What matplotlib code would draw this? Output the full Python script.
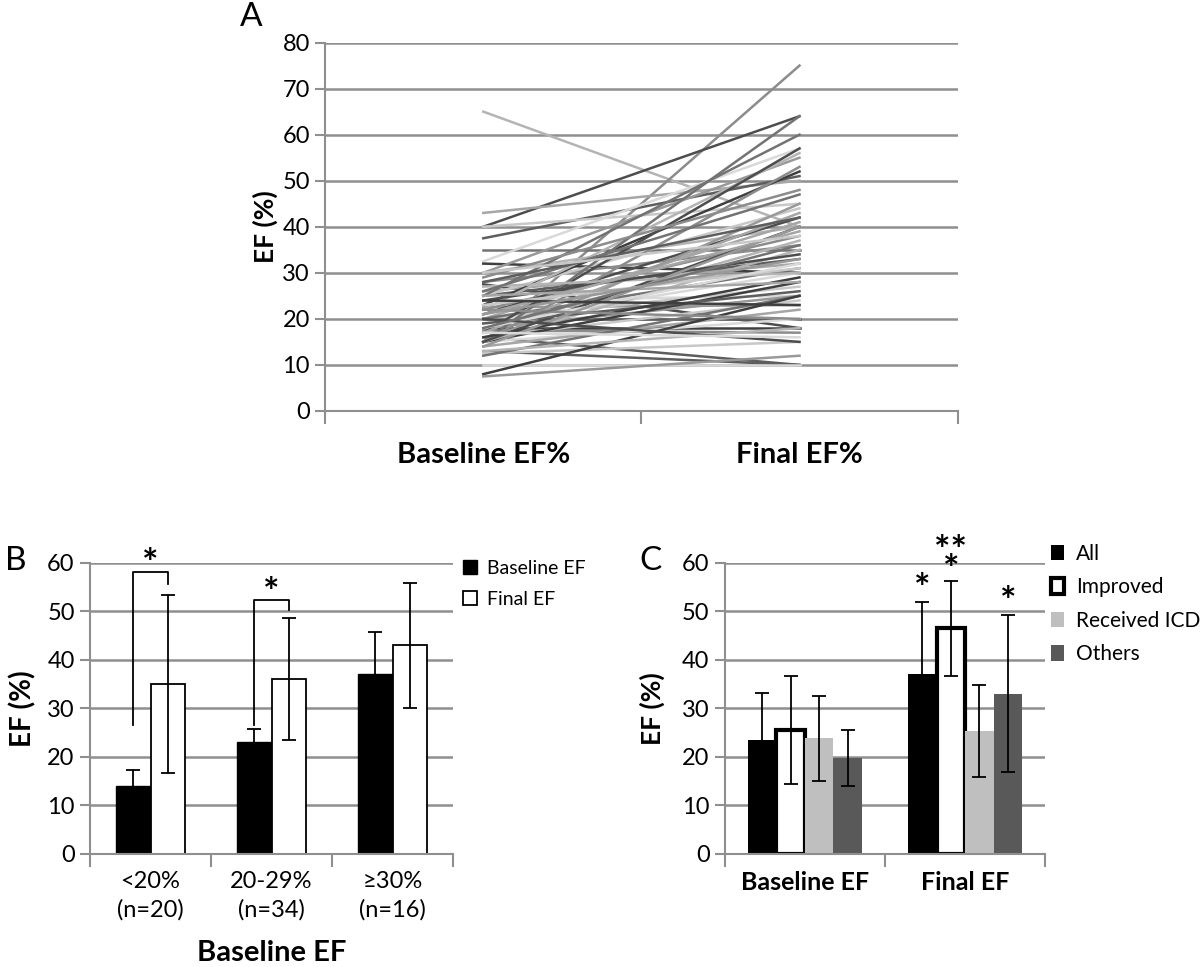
import numpy as np
import matplotlib.pyplot as plt
from matplotlib.patches import Patch

plt.rcParams['font.family'] = ['Lato', 'DejaVu Sans']

# Panel A: paired EF values per patient (baseline, final)
baseline_ef = [65, 15, 40, 43, 37.5, 40, 35, 32.5, 32, 30, 30, 28, 27.5, 26, 25, 25, 25, 24,
               23, 22.5, 22, 22, 21, 20, 20, 20, 20, 19, 18, 18, 17.5, 17.5, 17, 17, 16, 16,
               15, 15, 15, 15, 15, 15, 15, 14, 13, 12.5, 12, 10, 8, 7.5, 27, 29, 24, 21, 19,
               23, 26, 18, 16, 14, 13, 22, 20, 25, 28, 30, 18, 17, 24, 21]
final_ef = [40, 75, 64, 50, 51, 45, 35, 57, 30, 55, 40, 36, 18, 32, 33, 44, 60, 25,
            52, 23, 56, 38, 42, 41, 20, 27, 31, 30, 18, 25, 37, 17, 57, 43, 10, 24,
            64, 20, 28, 45, 35, 53, 40, 22, 10, 15, 25, 10, 25, 12, 30, 48, 34, 39, 26,
            31, 47, 32, 29, 40, 18, 20, 15, 28, 42, 38, 36, 16, 23, 33]
line_grays = ['#b4b4b4', '#8c8c8c', '#4d4d4d', '#a6a6a6', '#5e5e5e', '#c8c8c8', '#737373', '#d9d9d9', '#3f3f3f', '#999999']
a_categories = ['Baseline EF%', 'Final EF%']

# Panel B
b_categories = ['<20%\n(n=20)', '20-29%\n(n=34)', '\u226530%\n(n=16)']
b_baseline = [14, 23, 37]
b_baseline_err = [3.3, 2.8, 8.8]
b_final = [35, 36, 43]
b_final_err = [18.3, 12.6, 12.9]

# Panel C
c_categories = ['Baseline EF', 'Final EF']
c_series = ['All', 'Improved', 'Received ICD', 'Others']
c_all = [23.5, 37]
c_all_err = [9.7, 14.9]
c_improved = [25.5, 46.5]
c_improved_err = [11.1, 9.8]
c_icd = [23.8, 25.3]
c_icd_err = [8.7, 9.5]
c_others = [19.8, 33]
c_others_err = [5.8, 16.2]

grid_col = '#8f8f8f'
tick_fs = 17
label_fs = 19

fig = plt.figure(figsize=(12, 9.67), dpi=100)


def style_axes(ax, ymax, ystep):
    ax.set_ylim(0, ymax)
    ax.set_yticks(np.arange(0, ymax + 1, ystep))
    ax.yaxis.grid(True, color=grid_col, linewidth=1.8)
    ax.set_axisbelow(True)
    for s in ['top', 'right']:
        ax.spines[s].set_visible(False)
    for s in ['left', 'bottom']:
        ax.spines[s].set_color(grid_col)
        ax.spines[s].set_linewidth(1.5)
    ax.tick_params(axis='y', length=7, width=1.5, color=grid_col, labelsize=tick_fs, pad=4)
    ax.tick_params(axis='x', which='major', length=0, pad=12)
    ax.tick_params(axis='x', which='minor', length=9, width=1.5, color=grid_col)


# ---- Panel A ----
axA = fig.add_axes([0.271, 0.575, 0.527, 0.381])
for i in range(len(baseline_ef)):
    axA.plot([0, 1], [baseline_ef[i], final_ef[i]], color=line_grays[i % len(line_grays)], lw=1.8)
style_axes(axA, 80, 10)
axA.set_xlim(-0.5, 1.5)
axA.set_xticks([0, 1])
axA.set_xticklabels(a_categories, fontsize=21, fontweight='bold')
axA.tick_params(axis='x', which='major', pad=22)
axA.set_xticks([-0.5, 0.5, 1.5], minor=True)
axA.set_ylabel('EF (%)', fontsize=label_fs, fontweight='bold', labelpad=3)
fig.text(0.2, 0.982, 'A', fontsize=24, va='center')

# ---- Panel B ----
axB = fig.add_axes([0.075, 0.117, 0.3025, 0.301])
xb = np.arange(len(b_categories))
bw = 0.285
err_kw = dict(ecolor='black', capsize=5, elinewidth=1.3, capthick=1.3)
axB.bar(xb - bw / 2, b_baseline, bw, yerr=b_baseline_err, color='black', edgecolor='black',
        label='Baseline EF', error_kw=err_kw)
axB.bar(xb + bw / 2, b_final, bw, yerr=b_final_err, color='white', edgecolor='black', lw=1.3,
        label='Final EF', error_kw=err_kw)
style_axes(axB, 60, 10)
axB.set_xlim(-0.5, 2.5)
axB.set_xticks(xb)
axB.set_xticklabels(b_categories, fontsize=tick_fs, linespacing=1.45)
axB.set_xticks([-0.5, 0.5, 1.5, 2.5], minor=True)
axB.set_ylabel('EF (%)', fontsize=label_fs + 1, fontweight='bold', labelpad=8)
axB.set_xlabel('Baseline EF', fontsize=21, fontweight='bold', labelpad=14)
# significance brackets
for xi, lo, top, right_end in [(0, 26.5, 58.2, 55.7), (1, 26.5, 52.3, 50.2)]:
    axB.plot([xi - bw / 2, xi - bw / 2, xi + bw / 2, xi + bw / 2],
             [lo, top, top, right_end], color='black', lw=1.3, clip_on=False)
    axB.text(xi, top - 2.2, '*', fontsize=28, fontweight='bold', ha='center', va='bottom')
axB.legend(loc='upper left', bbox_to_anchor=(0.98, 1.07), frameon=False, fontsize=14,
           handlelength=0.7, handleheight=0.7, handletextpad=0.5, labelspacing=0.7)
fig.text(0.004, 0.42, 'B', fontsize=24, va='center')

# ---- Panel C ----
axC = fig.add_axes([0.604, 0.117, 0.267, 0.301])
xc = np.arange(len(c_categories))
cw = 0.178
c_vals = [c_all, c_improved, c_icd, c_others]
c_errs = [c_all_err, c_improved_err, c_icd_err, c_others_err]
c_face = ['black', 'white', '#bfbfbf', '#595959']
c_edge = ['black', 'black', '#bfbfbf', '#595959']
c_lw = [0, 3, 0, 0]
for k in range(len(c_series)):
    axC.bar(xc + (k - 1.5) * cw, c_vals[k], cw, yerr=c_errs[k], color=c_face[k],
            edgecolor=c_edge[k], lw=c_lw[k], error_kw=err_kw, label=c_series[k])
style_axes(axC, 60, 10)
axC.set_xlim(-0.5, 1.5)
axC.set_xticks(xc)
axC.set_xticklabels(c_categories, fontsize=label_fs - 1, fontweight='bold')
axC.set_xticks([-0.5, 0.5, 1.5], minor=True)
axC.set_ylabel('EF (%)', fontsize=label_fs, fontweight='bold', labelpad=12)
axC.text(1 - 1.5 * cw, 50.8, '*', fontsize=28, fontweight='bold', ha='center', va='bottom')
axC.text(1 - 0.5 * cw, 54.8, '*', fontsize=28, fontweight='bold', ha='center', va='bottom')
axC.text(1 - 0.5 * cw, 58.8, '**', fontsize=28, fontweight='bold', ha='center', va='bottom')
axC.text(1 + 1.5 * cw, 48.3, '*', fontsize=28, fontweight='bold', ha='center', va='bottom')
handles = [Patch(facecolor=c_face[k], edgecolor=c_edge[k], lw=c_lw[k], label=c_series[k])
           for k in range(len(c_series))]
axC.legend(handles=handles, loc='upper left', bbox_to_anchor=(0.96, 1.13), frameon=False,
           fontsize=15, handlelength=0.6, handleheight=0.75, handletextpad=0.6, labelspacing=0.65)
fig.text(0.533, 0.42, 'C', fontsize=24, va='center')

fig.savefig('out.png', dpi=100)
